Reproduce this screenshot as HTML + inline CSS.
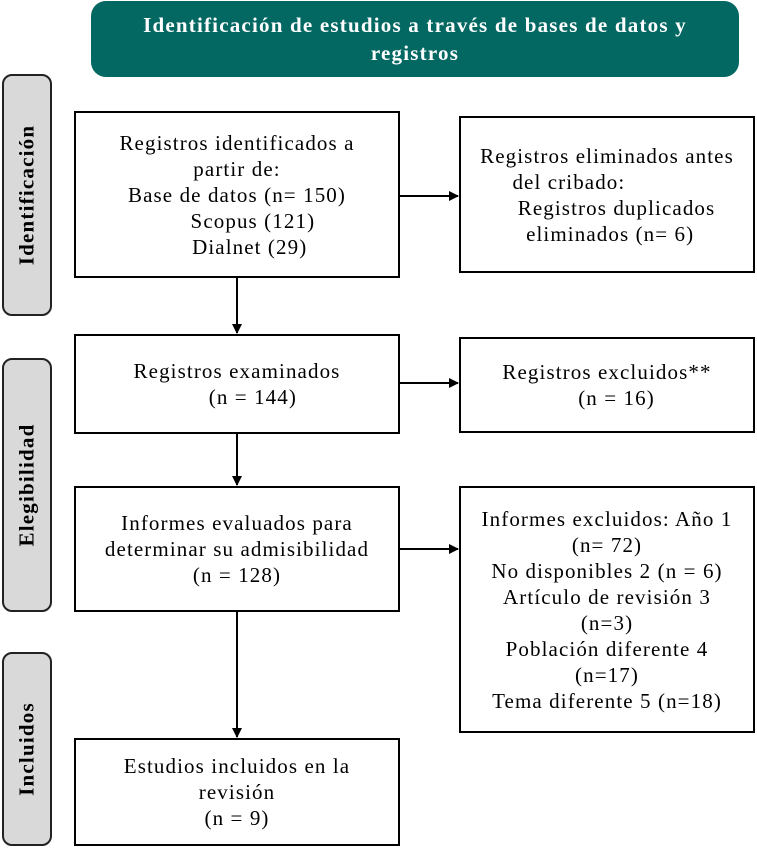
<!DOCTYPE html>
<html><head><meta charset="utf-8"><style>
body{margin:0;width:757px;height:848px;background:#fff;position:relative;overflow:hidden;font-family:"Liberation Serif",serif;}
.b{position:absolute;border:2px solid #000;box-sizing:border-box;background:#fff;font-size:21px;letter-spacing:1.1px;line-height:26px;text-align:center;display:flex;flex-direction:column;justify-content:center;white-space:nowrap;}
.tab{position:absolute;left:2px;width:50px;background:#d9d9d9;border:2px solid #222;border-radius:10px;box-sizing:border-box;}
.tab span{position:absolute;left:50%;top:50%;transform:translate(-50%,-50%) rotate(-90deg);font-weight:bold;font-size:21px;letter-spacing:1.2px;white-space:nowrap;}
.hdr{position:absolute;left:91px;top:1px;width:648px;height:76px;background:#036762;border-radius:15px;color:#fff;font-weight:bold;font-size:21px;letter-spacing:1.2px;line-height:28px;text-align:center;display:flex;align-items:center;justify-content:center;}
</style></head><body>
<div class="hdr"><div>Identificación de estudios a través de bases de datos y<br>registros</div></div>
<div class="tab" style="top:74px;height:242px"><span>Identificación</span></div>
<div class="tab" style="top:358px;height:254px"><span>Elegibilidad</span></div>
<div class="tab" style="top:652px;height:194px"><span>Incluidos</span></div>

<div class="b" style="left:74px;top:111px;width:326px;height:167px"><div>Registros identificados a<br>partir de:<br>Base de datos (n= 150)<br>&nbsp;&nbsp;&nbsp;&nbsp;&nbsp;Scopus (121)<br>&nbsp;&nbsp;&nbsp;&nbsp;Dialnet (29)</div></div>
<div class="b" style="left:459px;top:116px;width:296px;height:157px"><div>Registros eliminados antes<br>del cribado:&nbsp;&nbsp;&nbsp;&nbsp;&nbsp;&nbsp;&nbsp;&nbsp;&nbsp;&nbsp;&nbsp;&nbsp;<br>&nbsp;&nbsp;&nbsp;Registros duplicados<br>&nbsp;eliminados (n= 6)</div></div>
<div class="b" style="left:74px;top:334px;width:326px;height:100px"><div>Registros examinados<br>&nbsp;&nbsp;&nbsp;&nbsp;&nbsp;(n = 144)</div></div>
<div class="b" style="left:459px;top:337px;width:296px;height:96px"><div>Registros excluidos**<br>&nbsp;&nbsp;&nbsp;(n = 16)</div></div>
<div class="b" style="left:74px;top:486px;width:326px;height:126px"><div>Informes evaluados para<br>determinar su admisibilidad<br>(n = 128)</div></div>
<div class="b" style="left:459px;top:486px;width:296px;height:247px"><div>Informes excluidos: Año 1<br>(n= 72)<br>No disponibles 2 (n = 6)<br>Artículo de revisión 3<br>(n=3)<br>Población diferente 4<br>(n=17)<br>Tema diferente 5 (n=18)</div></div>
<div class="b" style="left:74px;top:738px;width:326px;height:108px"><div>Estudios incluidos en la<br>revisión<br>(n = 9)</div></div>

<svg width="757" height="848" style="position:absolute;left:0;top:0" >
<defs><marker id="a" markerWidth="10" markerHeight="10" refX="9" refY="5" orient="auto" markerUnits="userSpaceOnUse"><path d="M0,0 L10,5 L0,10z" fill="#000"/></marker></defs>
<g stroke="#000" stroke-width="2" fill="none">
<line x1="237" y1="278" x2="237" y2="333" marker-end="url(#a)"/>
<line x1="237" y1="434" x2="237" y2="485" marker-end="url(#a)"/>
<line x1="237" y1="612" x2="237" y2="737" marker-end="url(#a)"/>
<line x1="399" y1="196" x2="458" y2="196" marker-end="url(#a)"/>
<line x1="399" y1="383" x2="458" y2="383" marker-end="url(#a)"/>
<line x1="399" y1="549" x2="458" y2="549" marker-end="url(#a)"/>
</g></svg>
</body></html>
